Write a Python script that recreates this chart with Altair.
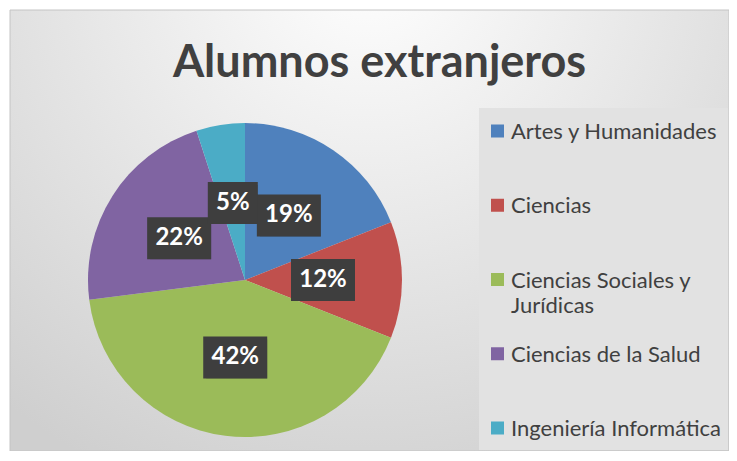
import altair as alt
import pandas as pd

categories = [
    "Artes y Humanidades",
    "Ciencias",
    "Ciencias Sociales y Jurídicas",
    "Ciencias de la Salud",
    "Ingeniería Informática",
]
values = [19, 12, 42, 22, 5]
colors = ["#4F81BD", "#C0504D", "#9BBB59", "#8064A2", "#4BACC6"]

df = pd.DataFrame({"category": categories, "value": values, "order": list(range(len(categories)))})

W, H = 719, 441
CX, CY, R, LR = 235, 270, 157, 78
LEG_X, LEG_TOP, LEG_STEP = 469, 121, 74.25

base = alt.Chart(df)
color_scale = alt.Scale(domain=categories, range=colors)

grad = alt.RadialGradient(
    gradient="radial",
    stops=[alt.GradientStop(offset=0, color="#ffffff"), alt.GradientStop(offset=1, color="#cfcfcf")],
    x1=0.5, y1=0.12, r1=0, x2=0.5, y2=0.12, r2=0.8,
)

one = alt.Chart(pd.DataFrame({"bg": [0]}))
bg = one.mark_rect(fill=grad, stroke="#c4c4c4", strokeWidth=1).encode(
    x=alt.value(0), x2=alt.value(W), y=alt.value(0), y2=alt.value(H)
)
legbox = one.mark_rect(fill="#e2e2e2").encode(
    x=alt.value(LEG_X), x2=alt.value(W - 1), y=alt.value(98), y2=alt.value(H - 1)
)

pie = base.mark_arc(outerRadius=R, strokeWidth=0).encode(
    theta=alt.Theta("value:Q", stack=True),
    color=alt.Color("category:N", scale=color_scale, sort=categories, legend=None),
    order=alt.Order("order:Q"),
    x=alt.value(CX),
    y=alt.value(CY),
)

leg = base.transform_calculate(
    ly=f"{LEG_TOP} + {LEG_STEP} * datum.order",
    lines="datum.category == 'Ciencias Sociales y Jurídicas' ? ['Ciencias Sociales y', 'Jurídicas'] : datum.category",
)
leg_sym = leg.mark_square(size=169, opacity=1).encode(
    x=alt.value(LEG_X + 18.5),
    y=alt.Y("ly:Q", scale=None, axis=None),
    color=alt.Color("category:N", scale=color_scale, sort=categories, legend=None),
)
leg_txt = leg.mark_text(
    align="left", baseline="alphabetic", dy=8, font="Lato", fontSize=22, color="#404040", lineHeight=25
).encode(
    x=alt.value(LEG_X + 32),
    y=alt.Y("ly:Q", scale=None, axis=None),
    text="lines:N",
)

lab = (
    base.transform_window(cum="sum(value)", sort=[alt.SortField("order")], frame=[None, 0])
    .transform_joinaggregate(total="sum(value)")
    .transform_calculate(
        mid="(datum.cum - datum.value / 2) / datum.total * 2 * PI",
        bx=f"{CX} + {LR} * sin(datum.mid)",
        by=f"{CY} - {LR} * cos(datum.mid)",
        label="format(datum.value / datum.total, '.0%')",
        hw="length(datum.label) > 2 ? 32 : 25",
        x1="datum.bx - datum.hw",
        x2="datum.bx + datum.hw",
        y1="datum.by - 21",
        y2="datum.by + 21",
    )
)

shadow = lab.mark_rect(color="black", opacity=0.25, xOffset=3, yOffset=3).encode(
    x=alt.X("x1:Q", scale=None, axis=None),
    x2="x2:Q",
    y=alt.Y("y1:Q", scale=None, axis=None),
    y2="y2:Q",
)
box = lab.mark_rect(color="#3e3e3e").encode(
    x=alt.X("x1:Q", scale=None, axis=None),
    x2="x2:Q",
    y=alt.Y("y1:Q", scale=None, axis=None),
    y2="y2:Q",
)
text = lab.mark_text(font="Lato", fontSize=24, fontWeight="bold", color="white", baseline="middle").encode(
    x=alt.X("bx:Q", scale=None, axis=None),
    y=alt.Y("by:Q", scale=None, axis=None),
    text="label:N",
)

chart = (
    alt.layer(bg, legbox, pie, shadow, box, text, leg_sym, leg_txt)
    .properties(
        width=W,
        height=H,
        autosize=alt.AutoSizeParams(type="none"),
        padding={"left": 2, "top": 2, "right": 0, "bottom": 0},
        title=alt.TitleParams(
            "Alumnos extranjeros",
            font="Lato",
            fontSize=45,
            fontWeight="bold",
            color="#404040",
            anchor="middle",
            offset=-76,
            dx=10,
        ),
    )
    .configure_view(stroke=None)
)

chart.save("out.html", embed_options={"renderer": "svg", "actions": False})
